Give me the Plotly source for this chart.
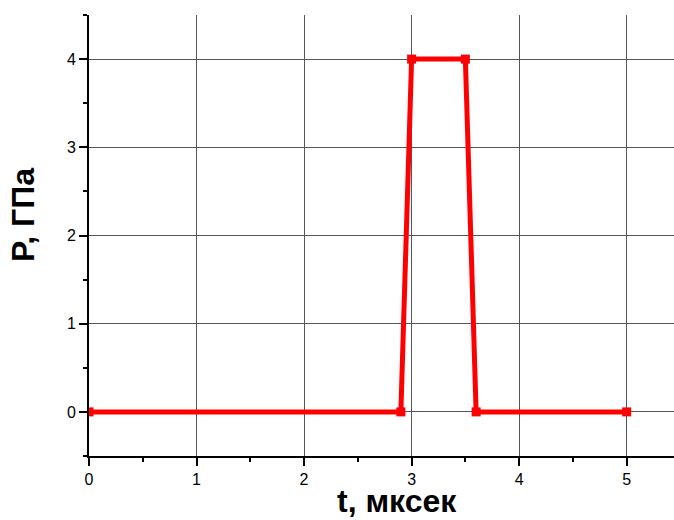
import plotly.graph_objects as go

t_us = [0, 2.9, 3.0, 3.5, 3.6, 5.0]
p_gpa = [0, 0, 4, 4, 0, 0]
x_ticks = [0, 1, 2, 3, 4, 5]
y_ticks = [0, 1, 2, 3, 4]

fig = go.Figure()
fig.add_trace(go.Scatter(
    x=t_us, y=p_gpa, mode="lines+markers",
    line=dict(color="#ff0000", width=5),
    marker=dict(symbol="square", size=9, color="#ff0000"),
    showlegend=False,
))

axis_common = dict(
    showline=True, linecolor="black", linewidth=2,
    ticks="outside", ticklen=8, tickwidth=2, tickcolor="black",
    showgrid=True, gridcolor="#555555", gridwidth=1,
    zeroline=False,
    tickfont=dict(family="Liberation Sans, Arial", size=16, color="black"),
)

fig.update_xaxes(
    range=[0, 5.44], tickvals=x_ticks,
    minor=dict(dtick=0.5, tick0=0, ticks="outside", ticklen=4, tickwidth=2, tickcolor="black", showgrid=False),
    **axis_common,
)
fig.update_yaxes(
    range=[-0.5, 4.5], tickvals=y_ticks,
    minor=dict(dtick=0.5, tick0=0, ticks="outside", ticklen=4, tickwidth=2, tickcolor="black", showgrid=False),
    **axis_common,
)

title_font = dict(family="Liberation Sans, Arial", size=32, color="black", weight="bold")
fig.add_annotation(text="t, мксек", xref="paper", yref="paper", x=0.5265, y=-0.102,
                   xanchor="center", yanchor="middle", showarrow=False, font=title_font,
                   borderpad=0)
fig.add_annotation(text="P, ГПа", xref="paper", yref="paper", x=-0.113, y=0.5465,
                   xanchor="center", yanchor="middle", showarrow=False, textangle=-90, font=title_font)

fig.update_layout(
    width=674, height=520,
    margin=dict(l=89, r=0, t=15, b=64),
    plot_bgcolor="white", paper_bgcolor="white",
)

fig.write_html("out.html")
